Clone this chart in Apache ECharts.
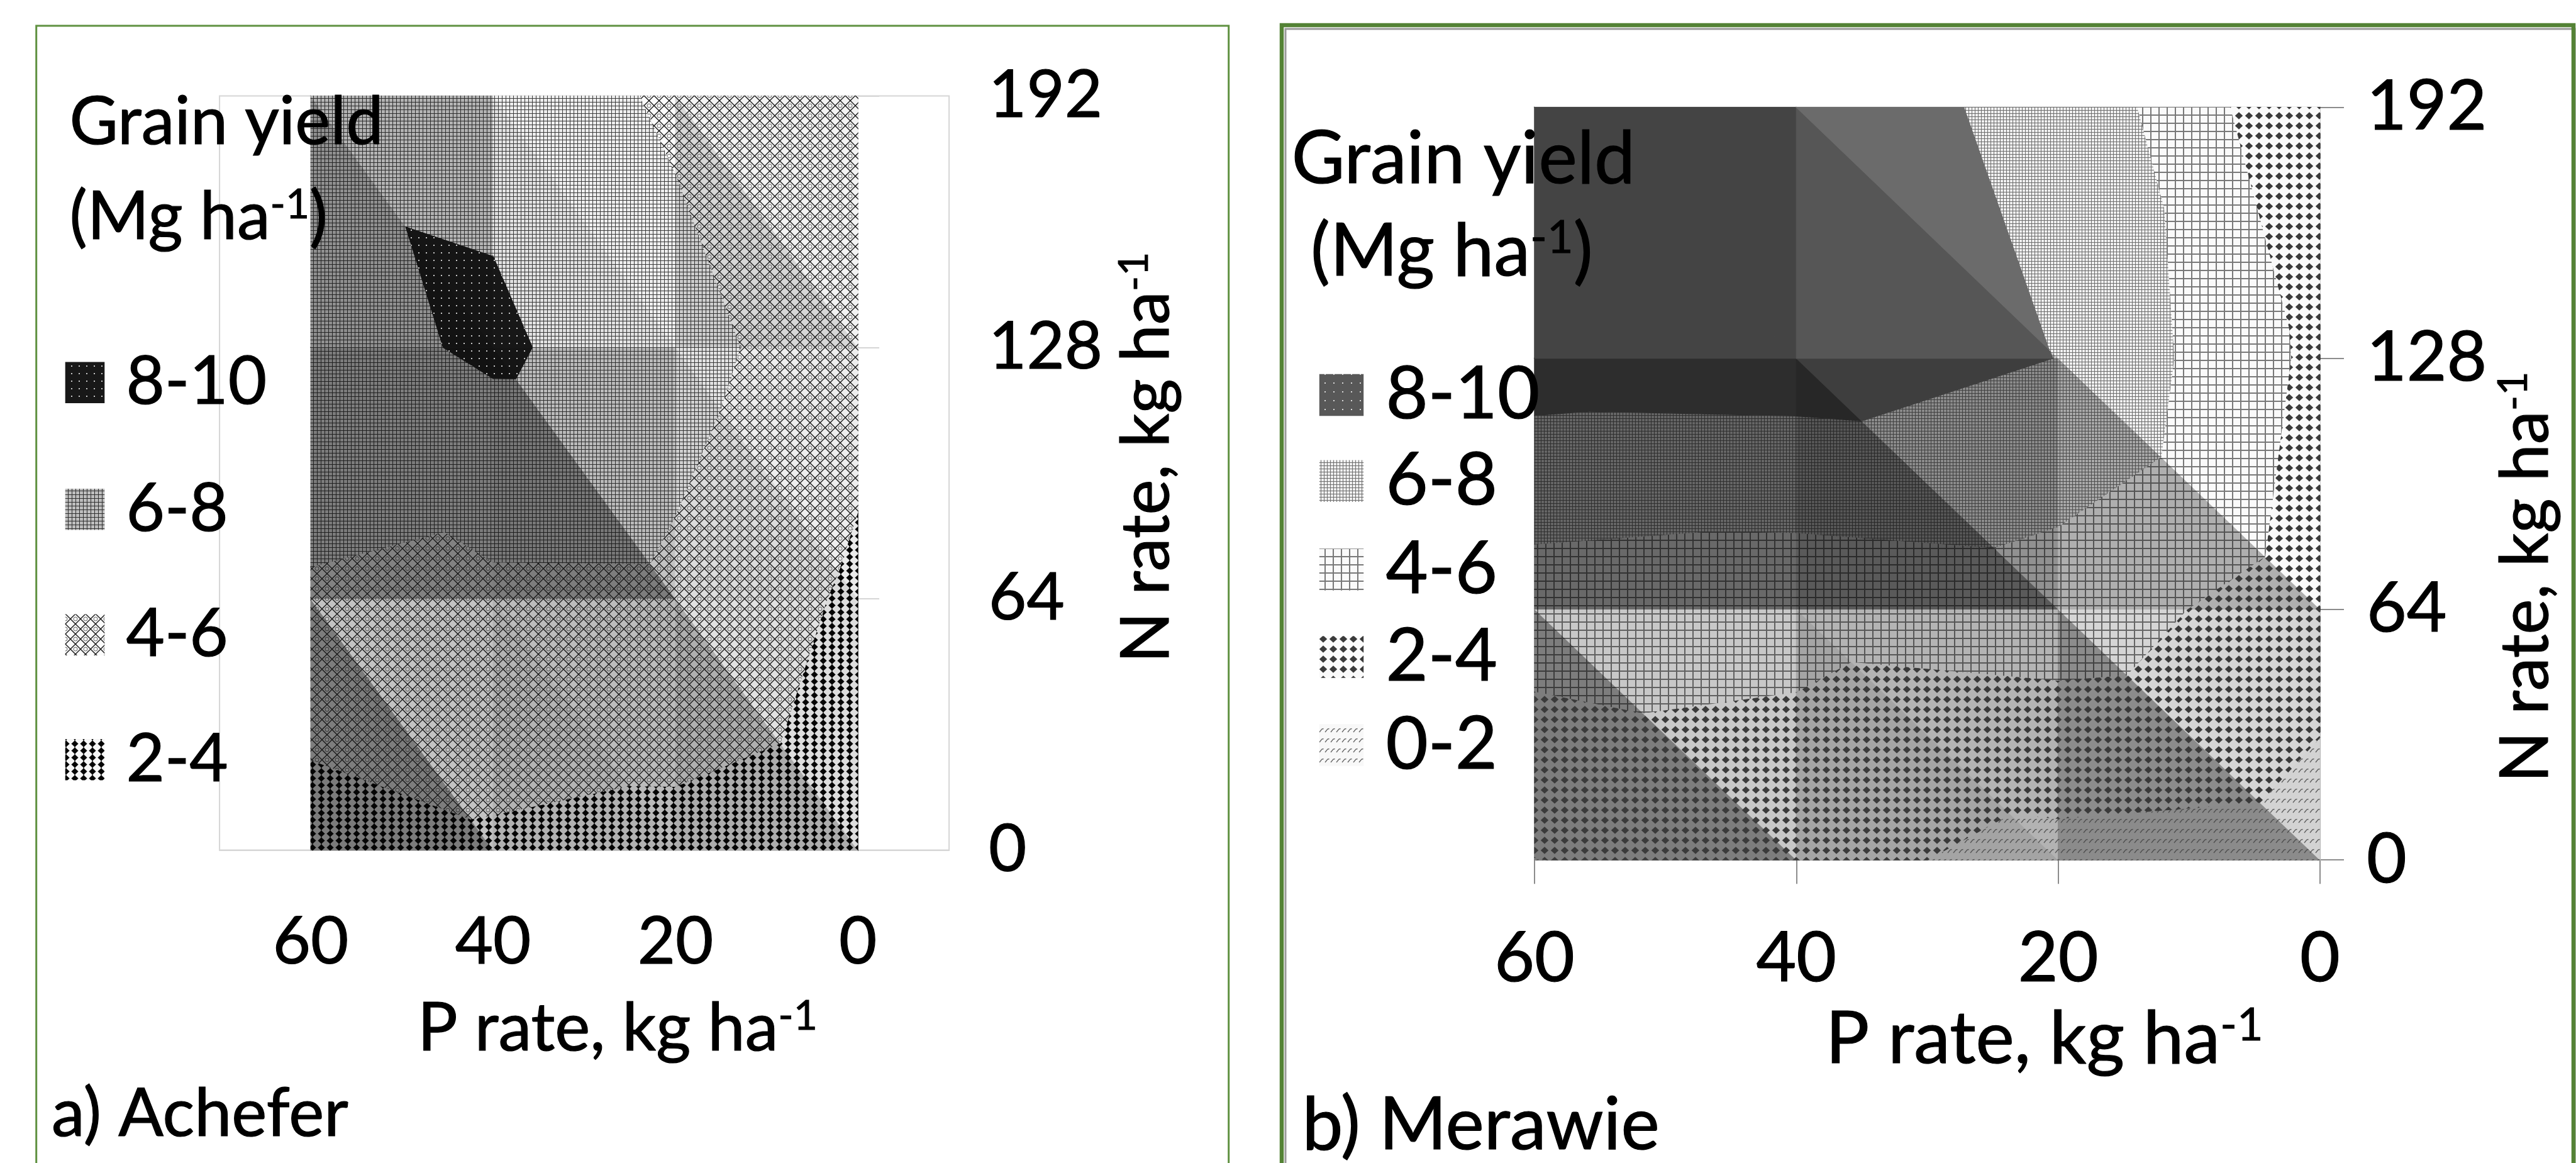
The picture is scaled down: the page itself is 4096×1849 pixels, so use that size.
<!DOCTYPE html>
<html><head><meta charset="utf-8">
<script src="https://cdn.jsdelivr.net/npm/echarts@6/dist/echarts.min.js"></script>
<style>html,body{margin:0;padding:0;background:#fff}#c{width:4096px;height:1849px}</style>
</head><body><div id="c"></div>
<script>
// ---------------- data ----------------
const P_RATES = [60, 40, 20, 0];            // P rate, kg ha-1 (left -> right)
const N_RATES = [0, 64, 128, 192];          // N rate, kg ha-1 (bottom -> top)
const X_LABELS = ['60', '40', '20', '0'];
const BAND_BREAKS = [0, 2, 4, 6, 8, 10];    // grain-yield class limits, Mg ha-1
const ACHEFER_LEGEND = ['8-10', '6-8', '4-6', '2-4'];
const MERAWIE_LEGEND = ['8-10', '6-8', '4-6', '2-4', '0-2'];
// Grain yield (Mg ha-1): rows = N rate 0, 64, 128, 192 ; cols = P rate 60, 40, 20, 0
const achefer_yield = [
  [2.97, 3.74, 3.45, 2.80],
  [5.84, 5.60, 5.62, 3.67],
  [7.10, 8.34, 6.76, 4.62],
  [7.63, 7.40, 5.65, 4.90]
];
const merawie_yield = [
  [1.97, 2.60, 1.40, 1.10],
  [4.99, 4.69, 5.03, 2.94],
  [8.89, 8.99, 7.98, 3.50],
  [8.45, 8.55, 7.69, 2.06]
];

// ---------------- style: facet lighting (row, col, [lower-left, upper-right]) ----------------
const achefer_shade = [
  [[0.50, 0.78], [0.72, 0.75], [0.70, 0.90]],
  [[0.52, 0.52], [0.50, 0.78], [0.88, 0.95]],
  [[0.60, 0.75], [0.95, 1.00], [0.86, 0.97]]
];
const merawie_shade = [
  [[0.50, 0.80], [0.66, 0.72], [0.56, 0.85]],
  [[0.42, 0.42], [0.36, 0.58], [0.70, 1.00]],
  [[0.64, 0.64], [0.80, 1.00], [1.00, 1.00]]
];

// ---------------- geometry helpers ----------------
function triangle(grid, r, c, t) {
  const v = (ci, ri) => ({ p: P_RATES[ci], n: N_RATES[ri], z: grid[ri][ci] });
  const TL = v(c, r + 1), TR = v(c + 1, r + 1), BL = v(c, r), BR = v(c + 1, r);
  return t === 0 ? [TL, BL, BR] : [TL, TR, BR];
}
function clipHalf(poly, f) {
  const out = [];
  for (let i = 0; i < poly.length; i++) {
    const a = poly[i], b = poly[(i + 1) % poly.length];
    const fa = f(a), fb = f(b);
    if (fa >= 0) out.push(a);
    if ((fa >= 0) !== (fb >= 0)) {
      const t = fa / (fa - fb);
      out.push({ p: a.p + t * (b.p - a.p), n: a.n + t * (b.n - a.n), z: a.z + t * (b.z - a.z) });
    }
  }
  return out;
}
function bandPoly(grid, r, c, t, b) {
  let poly = triangle(grid, r, c, t);
  poly = clipHalf(poly, v => v.z - BAND_BREAKS[b]);
  poly = clipHalf(poly, v => BAND_BREAKS[b + 1] - v.z);
  return poly;
}
function area(poly) {
  let s = 0;
  for (let i = 0; i < poly.length; i++) {
    const a = poly[i], b = poly[(i + 1) % poly.length];
    s += a.p * b.n - b.p * a.n;
  }
  return Math.abs(s / 2);
}

// ---------------- patterns ----------------
function g(v) { v = Math.max(0, Math.min(255, Math.round(v))); return 'rgb(' + v + ',' + v + ',' + v + ')'; }
const TILES = {};
function pat(key, L, w, h, draw) {
  const k = key + ':' + L.toFixed(3);
  if (!TILES[k]) {
    const cv = document.createElement('canvas'); cv.width = w; cv.height = h;
    const x = cv.getContext('2d'); draw(x, w, h, L);
    TILES[k] = { image: cv, repeat: 'repeat' };
  }
  return TILES[k];
}
function diamond(x, cx, cy, rx, ry) {
  x.beginPath(); x.moveTo(cx, cy - ry); x.lineTo(cx + rx, cy); x.lineTo(cx, cy + ry); x.lineTo(cx - rx, cy); x.closePath(); x.fill();
}
const acheferPaint = {
  1: L => pat('a1', L, 14, 11, (x, w, h, L) => { x.fillStyle = g(246 * L); x.fillRect(0, 0, w, h); x.fillStyle = '#050505'; diamond(x, 7, 5.5, 5.6, 5.2); x.fillRect(6.5, 0, 1, h); }),
  2: L => pat('a2', L, 16, 16, (x, w, h, L) => {
    x.fillStyle = g(250 * L); x.fillRect(0, 0, w, h);
    x.strokeStyle = g(25); x.lineWidth = 1.4;
    x.beginPath(); x.moveTo(8, 0); x.lineTo(16, 8); x.lineTo(8, 16); x.lineTo(0, 8); x.closePath(); x.stroke();
    x.strokeStyle = g(100 * L); x.lineWidth = 1; x.beginPath(); x.arc(8, 8, 3, 0, Math.PI * 2); x.stroke();
  }),
  3: L => pat('a3', L, 6, 6, (x, w, h, L) => { x.fillStyle = g(238 * L); x.fillRect(0, 0, w, h); x.fillStyle = g(60 * L); x.fillRect(0, 0, 6, 1); x.fillRect(0, 0, 1, 6); }),
  4: L => pat('a4', L, 12, 12, (x, w, h, L) => { x.fillStyle = g(12 + 12 * L); x.fillRect(0, 0, w, h); x.fillStyle = g(200); x.fillRect(5, 5, 2, 2); })
};
const merawiePaint = {
  0: L => pat('m0', L, 9, 16, (x, w, h, L) => {
    x.fillStyle = g(248 * L); x.fillRect(0, 0, w, h);
    x.strokeStyle = g(50 + 50 * L); x.lineWidth = 1.3;
    x.beginPath(); x.moveTo(1, 12); x.lineTo(5, 7); x.lineTo(7.5, 6.5); x.stroke();
  }),
  1: L => pat('m1', L, 16, 16, (x, w, h, L) => { x.fillStyle = g(250 * L); x.fillRect(0, 0, w, h); x.fillStyle = g(58); diamond(x, 8, 8, 6.2, 5.8); }),
  2: L => pat('m2', L, 13, 13, (x, w, h, L) => { x.fillStyle = g(250 * L); x.fillRect(0, 0, w, h); x.fillStyle = g(120 * L); x.fillRect(0, 0, 13, 2); x.fillRect(0, 0, 2, 13); }),
  3: L => pat('m3', L, 5, 5, (x, w, h, L) => { x.fillStyle = g(240 * L); x.fillRect(0, 0, w, h); x.fillStyle = g(110 * L); x.fillRect(0, 0, 5, 1); x.fillRect(0, 0, 1, 5); }),
  4: L => pat('m4', L, 4, 4, (x, w, h, L) => { x.fillStyle = g(107 * L); x.fillRect(0, 0, w, h); })
};
const merawieLegend84 = pat('m4leg', 1, 14, 14, (x, w, h) => { x.fillStyle = g(88); x.fillRect(0, 0, w, h); x.fillStyle = g(215); x.fillRect(6, 6, 2, 2); });

// ---------------- series ----------------
function surfaceSeries(idx, grid, shade, paint) {
  const data = [];
  for (let r = 0; r < 3; r++) for (let c = 0; c < 3; c++) for (let t = 0; t < 2; t++) for (let b = 0; b < 5; b++) {
    const poly = bandPoly(grid, r, c, t, b);
    if (poly.length >= 3 && area(poly) > 1e-6 && paint[b]) data.push([r, c, t, b]);
  }
  return {
    type: 'custom', coordinateSystem: 'cartesian2d', xAxisIndex: idx * 2, yAxisIndex: idx,
    data: data, silent: true, animation: false, clip: false, z: 2,
    renderItem: (params, api) => {
      const r = api.value(0), c = api.value(1), t = api.value(2), b = api.value(3);
      const poly = bandPoly(grid, r, c, t, b);
      const pts = poly.map(v => api.coord([v.p, v.n]));
      const fill = paint[b](shade[r][c][t]);
      return { type: 'polygon', shape: { points: pts }, style: { fill: fill, stroke: fill, lineWidth: 1.2 } };
    }
  };
}

const FONT = 'Lato';
const FA = 106, FM = 116;      // text sizes (Achefer / Merawie panels)
const TA = 104, TM = 110;      // tick-label sizes
const YT = 106;                // y-axis title size (both panels)
const TB = 1.2;                // slight text thickening

function txt(x, y, rich, size, extra) {
  const sub = Math.round(size * 0.62);
  return Object.assign({
    type: 'text', x: x, y: y, z: 100, silent: true,
    style: {
      text: rich, fill: '#000', stroke: '#000', lineWidth: TB, font: size + 'px ' + FONT, verticalAlign: 'middle', align: 'left',
      rich: {
        m: { fontSize: size, fontFamily: FONT, fill: '#000', stroke: '#000', lineWidth: TB },
        s: { fontSize: sub, fontFamily: FONT, fill: '#000', stroke: '#000', lineWidth: TB * 0.7, verticalAlign: 'top' }
      }
    }
  }, extra || {});
}
function legendBox(x, yc, w, h, fill) {
  return { type: 'rect', z: 100, silent: true, shape: { x: x, y: yc - h / 2, width: w, height: h }, style: { fill: fill } };
}

const graphics = [
  // panel borders
  { type: 'rect', z: 0, silent: true, shape: { x: 57.7, y: 41, width: 1896, height: 1900 }, style: { fill: 'none', stroke: '#5f9140', lineWidth: 3 } },
  { type: 'rect', z: 0, silent: true, shape: { x: 2044, y: 46, width: 2050, height: 1900 }, style: { fill: 'none', stroke: '#9a9a9a', lineWidth: 3 } },
  { type: 'rect', z: 0, silent: true, shape: { x: 2038, y: 40, width: 2054, height: 1900 }, style: { fill: 'none', stroke: '#548235', lineWidth: 6.5 } },
  // Achefer texts
  txt(110.5, 194.6, '{m|Grain yield}', FA),
  txt(110.5, 346, '{m|(Mg ha}{s|-1}{m|)}', FA),
  txt(664, 1636, '{m|P rate, kg ha}{s|-1}', FA),
  txt(1824, 1054, '{m|N rate, kg ha}{s|-1}', YT, { rotation: Math.PI / 2 }),
  txt(82, 1772, '{m|a) Achefer}', FA),
  // Merawie texts
  txt(2053.8, 253.3, '{m|Grain yield}', FM),
  txt(2084, 401, '{m|(Mg ha}{s|-1}{m|)}', FM),
  txt(2902.7, 1652.8, '{m|P rate, kg ha}{s|-1}', FM),
  txt(4016.6, 1244, '{m|N rate, kg ha}{s|-1}', YT, { rotation: Math.PI / 2 }),
  txt(2070.4, 1789.7, '{m|b) Merawie}', FM)
];
// Achefer legend
const aCenters = [608.3, 809.8, 1009.3, 1207.8];
ACHEFER_LEGEND.forEach((lab, i) => {
  const band = 4 - i;
  graphics.push(legendBox(103.7, aCenters[i], 62.6, 65.5, acheferPaint[band](band === 3 ? 0.8 : 1)));
  graphics.push(txt(200.5, aCenters[i], '{m|' + lab + '}', FA));
});
// Merawie legend
const mCenters = [627.9, 764.8, 905.6, 1044.5, 1184.4];
MERAWIE_LEGEND.forEach((lab, i) => {
  const band = 4 - i;
  graphics.push(legendBox(2097.8, mCenters[i], 70.4, 66.5, band === 4 ? merawieLegend84 : merawiePaint[band](1)));
  graphics.push(txt(2203.4, mCenters[i], '{m|' + lab + '}', FM));
});

const axisColA = '#d6d6d6', axisColM = '#8c8c8c';
const lbl = (size, margin) => ({ fontSize: size, fontFamily: FONT, color: '#000', margin: margin, textBorderColor: '#000', textBorderWidth: TB });
const option = {
  animation: false,
  backgroundColor: '#ffffff',
  textStyle: { fontFamily: FONT },
  grid: [
    { left: 349.1, top: 152.6, width: 1160, height: 1199, show: true, borderColor: axisColA, borderWidth: 2, backgroundColor: 'transparent' },
    { left: 2440, top: 170.7, width: 1249, height: 1196.5, show: true, borderColor: '#a6a6a6', borderWidth: 2, backgroundColor: 'transparent' }
  ],
  xAxis: [
    { gridIndex: 0, type: 'value', min: -10, max: 70, inverse: true, show: false, position: 'top' },
    { gridIndex: 0, type: 'category', data: X_LABELS, boundaryGap: true, position: 'bottom',
      axisLine: { lineStyle: { color: axisColA, width: 2 } },
      axisTick: { length: 34, lineStyle: { color: axisColA, width: 2 } },
      axisLabel: lbl(TA, 95) },
    { gridIndex: 1, type: 'value', min: 0, max: 60, inverse: true, show: false, position: 'top' },
    { gridIndex: 1, type: 'category', data: X_LABELS, boundaryGap: false, position: 'bottom',
      axisLine: { lineStyle: { color: axisColM, width: 2 } },
      axisTick: { length: 38, lineStyle: { color: axisColM, width: 2 } },
      axisLabel: lbl(TM, 102) }
  ],
  yAxis: [
    { gridIndex: 0, type: 'value', min: 0, max: 192, interval: 64, position: 'right',
      axisLine: { show: true, lineStyle: { color: axisColA, width: 2 } },
      axisTick: { show: true, length: 34, lineStyle: { color: axisColA, width: 2 } },
      axisLabel: lbl(TA, 63), splitLine: { show: false } },
    { gridIndex: 1, type: 'value', min: 0, max: 192, interval: 64, position: 'right',
      axisLine: { show: true, lineStyle: { color: axisColM, width: 2 } },
      axisTick: { show: true, length: 38, lineStyle: { color: axisColM, width: 2 } },
      axisLabel: lbl(TM, 74), splitLine: { show: false } }
  ],
  series: [
    surfaceSeries(0, achefer_yield, achefer_shade, acheferPaint),
    surfaceSeries(1, merawie_yield, merawie_shade, merawiePaint)
  ],
  graphic: graphics
};
const chart = echarts.init(document.getElementById('c'), null, { renderer: 'canvas', width: 4096, height: 1849 });
chart.setOption(option);
</script></body></html>
